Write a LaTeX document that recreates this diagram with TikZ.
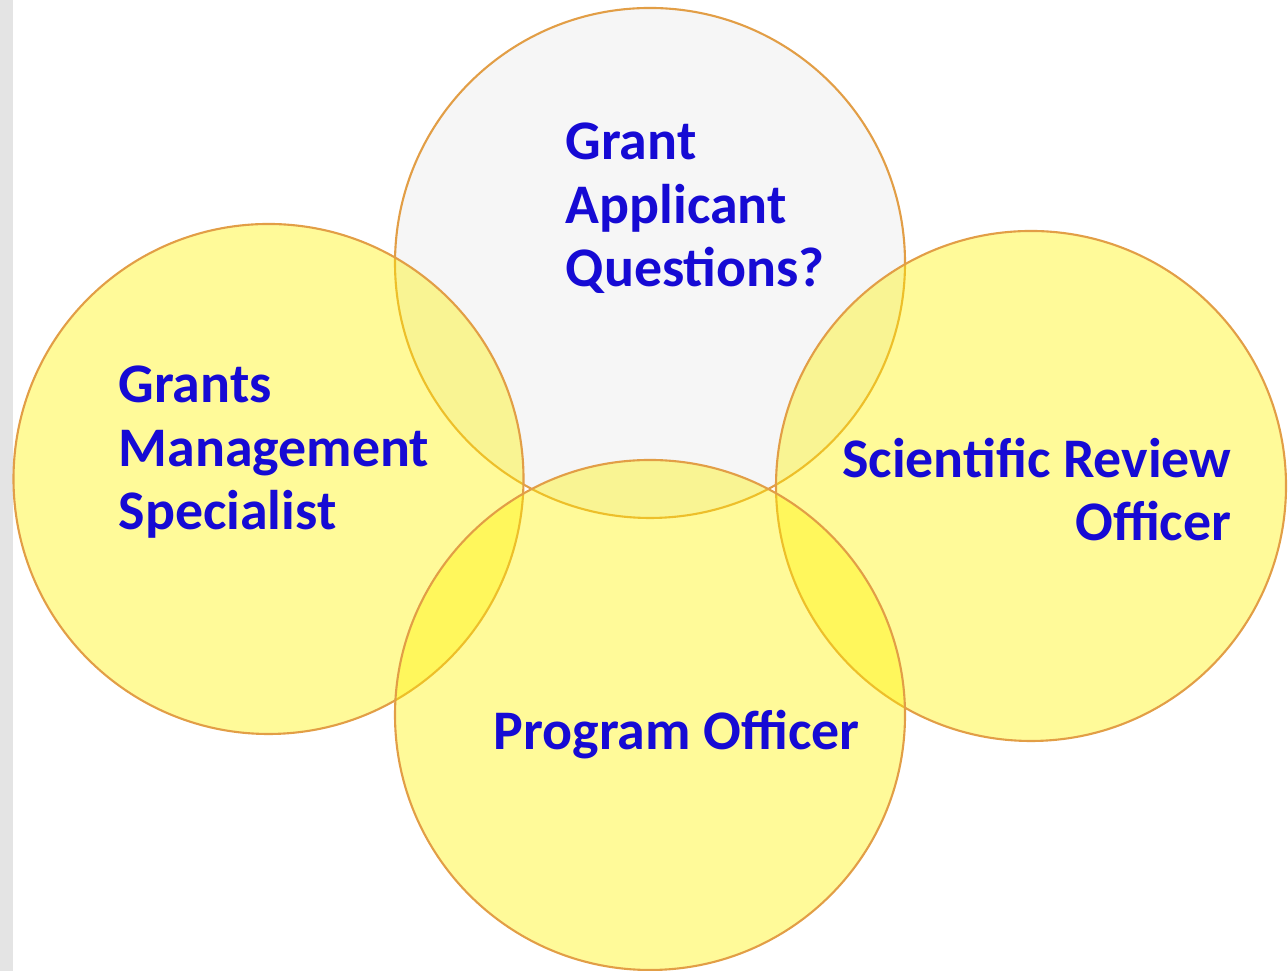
\documentclass[tikz,border=0pt]{standalone}
\usepackage{fontspec}
\setmainfont{Carlito}
\usetikzlibrary{positioning}
\definecolor{roleblue}{RGB}{22,10,212}
\definecolor{rimorange}{RGB}{226,158,70}
\definecolor{askgray}{RGB}{246,246,246}
\definecolor{edgegray}{RGB}{228,228,228}
\newcommand{\ringsize}{5.1cm}
\tikzstyle{asker} = [% the circle of the applicant
  circle,
  minimum size=\ringsize,
  draw=rimorange,
  line width=0.6pt,
  fill=askgray
]
\tikzstyle{member} = [% the circle of one office, see-through
  circle,
  minimum size=\ringsize,
  draw=rimorange,
  line width=0.6pt,
  fill=yellow,
  fill opacity=0.4
]
\tikzstyle{rolename} = [% text of a circle
  font=\bfseries\fontsize{15.9}{18.1}\selectfont,
  text=roleblue,
  inner sep=0pt
]

\begin{document}
\begin{tikzpicture}

\useasboundingbox (0,0) rectangle (12.88,9.71);
\fill[edgegray] (0,0) rectangle (0.13,9.71);

%%% Circles
\node[asker] (applicant) at (6.50,7.08) {};
\node[member] (management) at (2.685,4.92) {};
\node[member] (review) at (10.31,4.85) {};
\node[member] (program) at (6.50,2.56) {};

%%% Texts (base = baseline of the last line)
\node[rolename, align=left, anchor=base west] (applicanttext) at (5.65,6.84) {Grant\\Applicant\\Questions?};
\node[rolename, align=left, anchor=base west] (managementtext) at (1.18,4.41) {Grants\\Management\\Specialist};
\node[rolename, align=right, anchor=base east] (reviewtext) at (12.32,4.30) {Scientific Review\\Officer};
\node[rolename, anchor=base west] (programtext) at (4.93,2.21) {Program Officer};

\end{tikzpicture}
\end{document}
